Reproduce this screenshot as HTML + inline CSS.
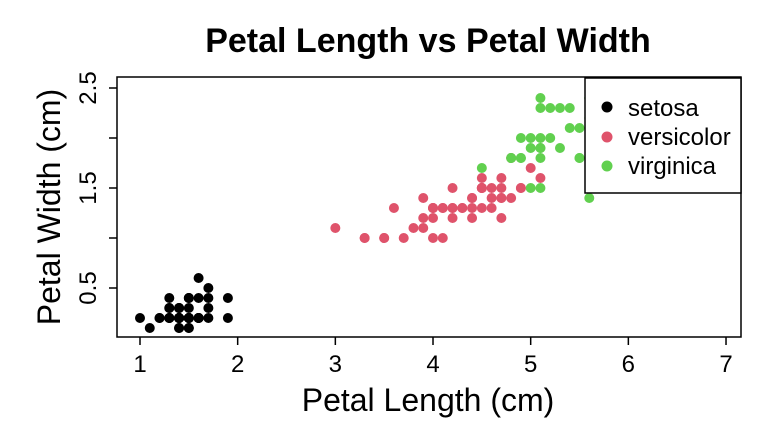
<!DOCTYPE html>
<html><head><meta charset="utf-8"><style>
html,body{margin:0;padding:0;background:#fff;}
svg{display:block;font-family:"Liberation Sans",Arial,sans-serif;}
</style></head><body>
<svg id="chart" width="781" height="435" viewBox="0 0 781 435">
<text x="428" y="52" text-anchor="middle" font-size="34" font-weight="bold">Petal Length vs Petal Width</text>
<text x="428" y="411" text-anchor="middle" font-size="32">Petal Length (cm)</text>
<text transform="translate(60,207) rotate(-90)" text-anchor="middle" font-size="32">Petal Width (cm)</text>
<g id="points"></g>
<g id="axes"></g>
<rect x="117" y="77" width="624" height="260" fill="none" stroke="#000" stroke-width="1.5"/>
<g>
<rect x="585" y="78" width="156" height="115" fill="#fff" stroke="#000" stroke-width="1.5"/>
<g><circle cx="607" cy="107" r="5.5" fill="#000"/><text x="628" y="116" font-size="24">setosa</text></g>
<g><circle cx="607" cy="137" r="5.5" fill="#DF536B"/><text x="628" y="145" font-size="24">versicolor</text></g>
<g><circle cx="607" cy="166" r="5.5" fill="#61D04F"/><text x="628" y="174" font-size="24">virginica</text></g>
</g>
</svg>
<script>
const setosaLength=[1.4,1.4,1.3,1.5,1.4,1.7,1.4,1.5,1.4,1.5,1.5,1.6,1.4,1.1,1.2,1.5,1.3,1.4,1.7,1.5,1.7,1.5,1.0,1.7,1.9,1.6,1.6,1.5,1.4,1.6,1.6,1.5,1.5,1.4,1.5,1.2,1.3,1.4,1.3,1.5,1.3,1.3,1.3,1.6,1.9,1.4,1.6,1.4,1.5,1.4];
const setosaWidth=[.2,.2,.2,.2,.2,.4,.3,.2,.2,.1,.2,.2,.1,.1,.2,.4,.4,.3,.3,.3,.2,.4,.2,.5,.2,.2,.4,.2,.2,.2,.2,.4,.1,.2,.2,.2,.2,.1,.2,.2,.3,.3,.2,.6,.4,.3,.2,.2,.2,.2];
const versicolorLength=[4.7,4.5,4.9,4.0,4.6,4.5,4.7,3.3,4.6,3.9,3.5,4.2,4.0,4.7,3.6,4.4,4.5,4.1,4.5,3.9,4.8,4.0,4.9,4.7,4.3,4.4,4.8,5.0,4.5,3.5,3.8,3.7,3.9,5.1,4.5,4.5,4.7,4.4,4.1,4.0,4.4,4.6,4.0,3.3,4.2,4.2,4.2,4.3,3.0,4.1];
const versicolorWidth=[1.4,1.5,1.5,1.3,1.5,1.3,1.6,1.0,1.3,1.4,1.0,1.5,1.0,1.4,1.3,1.4,1.5,1.0,1.5,1.1,1.8,1.3,1.5,1.2,1.3,1.4,1.4,1.7,1.5,1.0,1.1,1.0,1.2,1.6,1.5,1.6,1.5,1.3,1.3,1.3,1.2,1.4,1.2,1.0,1.3,1.2,1.3,1.3,1.1,1.3];
const virginicaLength=[6.0,5.1,5.9,5.6,5.8,6.6,4.5,6.3,5.8,6.1,5.1,5.3,5.5,5.0,5.1,5.3,5.5,6.7,6.9,5.0,5.7,4.9,6.7,4.9,5.7,6.0,4.8,4.9,5.6,5.8,6.1,6.4,5.6,5.1,5.6,6.1,5.6,5.5,4.8,5.4,5.6,5.1,5.1,5.9,5.7,5.2,5.0,5.2,5.4,5.1];
const virginicaWidth=[2.5,1.9,2.1,1.8,2.2,2.1,1.7,1.8,1.8,2.5,2.0,1.9,2.1,2.0,2.4,2.3,1.8,2.2,2.3,1.5,2.3,2.0,2.0,1.8,2.1,1.8,1.8,1.8,2.1,1.6,1.9,2.0,2.2,1.5,1.4,2.3,2.4,1.8,1.8,2.1,2.4,2.3,1.9,2.3,2.5,2.3,1.9,2.0,2.3,1.8];
const xTicks=[1,2,3,4,5,6,7];
const yTicks=[0.5,1,1.5,2,2.5];
const yTickLabels=["0.5","","1.5","","2.5"];
const NS="http://www.w3.org/2000/svg";
const xs=v=>140+(v-1)*97.67;
const ys=v=>338-v*100;
const pg=document.getElementById('points');
function series(L,W,color,name){
  for(let i=0;i<L.length;i++){
    const c=document.createElementNS(NS,'circle');
    c.setAttribute('cx',xs(L[i]));c.setAttribute('cy',ys(W[i]));c.setAttribute('r',5);c.setAttribute('fill',color);
    
    
    pg.appendChild(c);
  }
}
series(setosaLength,setosaWidth,'#000','setosa');
series(versicolorLength,versicolorWidth,'#DF536B','versicolor');
series(virginicaLength,virginicaWidth,'#61D04F','virginica');
const ax=document.getElementById('axes');
xTicks.forEach(t=>{
  const l=document.createElementNS(NS,'line');
  l.setAttribute('x1',xs(t));l.setAttribute('x2',xs(t));l.setAttribute('y1',337);l.setAttribute('y2',345);l.setAttribute('stroke','#000');l.setAttribute('stroke-width',1.5);
  
  
  ax.appendChild(l);
  const tx=document.createElementNS(NS,'text');
  tx.setAttribute('x',xs(t));tx.setAttribute('y',372);tx.setAttribute('text-anchor','middle');tx.setAttribute('font-size',24);tx.textContent=t;
  
  
  ax.appendChild(tx);
});
yTicks.forEach((t,i)=>{
  const l=document.createElementNS(NS,'line');
  l.setAttribute('x1',109);l.setAttribute('x2',117);l.setAttribute('y1',ys(t));l.setAttribute('y2',ys(t));l.setAttribute('stroke','#000');l.setAttribute('stroke-width',1.5);
  
  
  ax.appendChild(l);
  if(yTickLabels[i]){
    const tx=document.createElementNS(NS,'text');
    tx.setAttribute('transform','translate(96,'+ys(t)+') rotate(-90)');tx.setAttribute('text-anchor','middle');tx.setAttribute('font-size',24);tx.textContent=yTickLabels[i];
    
    
    ax.appendChild(tx);
  }
});
</script>
</body></html>
